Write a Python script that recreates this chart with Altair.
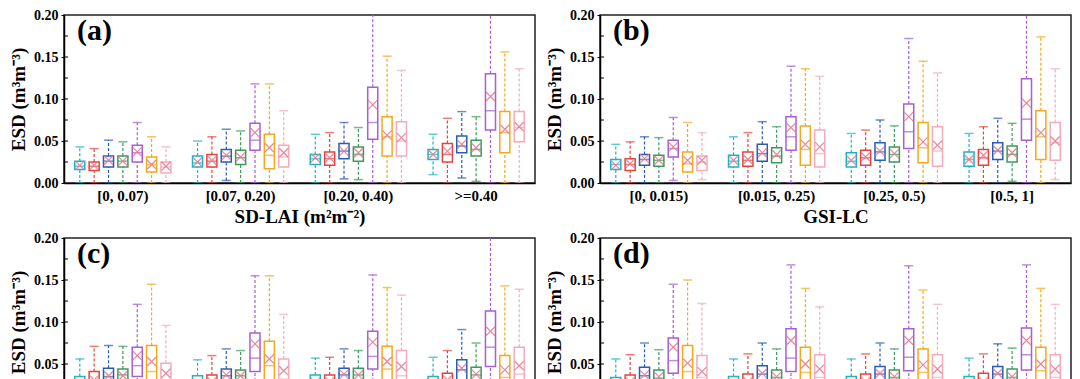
import altair as alt
import pandas as pd

SERIES = ["S1", "S2", "S3", "S4", "S5", "S6", "S7"]
COLORS = ["#1fb3c4", "#e2443f", "#2b5cb5", "#3b9b5c", "#a65fd6", "#f2a91c", "#f6aabb"]
MEAN_COLOR = "#e87a90"

A_GROUPS = ["[0, 0.07)", "[0.07, 0.20)", "[0.20, 0.40)", ">=0.40"]
B_GROUPS = ["[0, 0.015)", "[0.015, 0.25)", "[0.25, 0.5)", "[0.5, 1]"]
C_GROUPS = ["[0, 0.07)", "[0.07, 0.20)", "[0.20, 0.40)", ">=0.40"]
D_GROUPS = ["[0, 0.015)", "[0.015, 0.25)", "[0.25, 0.5)", "[0.5, 1]"]

# ---- panel (a): rows = series, cols = groups
A_HI = [[0.043, 0.050, 0.058, 0.058], [0.041, 0.055, 0.060, 0.077], [0.051, 0.064, 0.072, 0.085],
        [0.049, 0.062, 0.066, 0.079], [0.072, 0.118, 0.25, 0.25], [0.055, 0.118, 0.151, 0.156],
        [0.043, 0.086, 0.134, 0.136]]
A_Q3 = [[0.026, 0.032, 0.034, 0.040], [0.025, 0.034, 0.037, 0.047], [0.032, 0.040, 0.047, 0.056],
        [0.032, 0.039, 0.043, 0.051], [0.045, 0.071, 0.114, 0.130], [0.031, 0.058, 0.079, 0.085],
        [0.025, 0.045, 0.073, 0.085]]
A_MED = [[0.020, 0.024, 0.029, 0.034], [0.020, 0.026, 0.029, 0.034], [0.026, 0.032, 0.038, 0.044],
         [0.026, 0.030, 0.034, 0.040], [0.036, 0.051, 0.072, 0.086], [0.022, 0.033, 0.055, 0.060],
         [0.019, 0.031, 0.050, 0.066]]
A_MEAN = [[0.021, 0.025, 0.030, 0.034], [0.021, 0.027, 0.030, 0.038], [0.027, 0.033, 0.038, 0.046],
          [0.026, 0.031, 0.036, 0.042], [0.037, 0.060, 0.093, 0.103], [0.022, 0.042, 0.057, 0.064],
          [0.020, 0.036, 0.054, 0.067]]
A_Q1 = [[0.016, 0.019, 0.022, 0.028], [0.015, 0.019, 0.021, 0.025], [0.019, 0.025, 0.029, 0.036],
        [0.019, 0.022, 0.026, 0.032], [0.025, 0.039, 0.052, 0.063], [0.013, 0.017, 0.032, 0.036],
        [0.012, 0.019, 0.032, 0.049]]
A_LO = [[0.0, 0.0, 0.0, 0.010], [0.0, 0.0, 0.0, 0.0], [0.0, 0.003, 0.005, 0.006],
        [0.0, 0.0, 0.004, 0.002], [0.0, 0.0, 0.0, 0.0], [0.0, 0.0, 0.0, 0.0], [0.0, 0.0, 0.0, 0.0]]

# ---- panel (b)
B_HI = [[0.046, 0.055, 0.059, 0.059], [0.049, 0.060, 0.063, 0.067], [0.055, 0.073, 0.075, 0.077],
        [0.054, 0.067, 0.068, 0.071], [0.078, 0.139, 0.172, 0.25], [0.072, 0.136, 0.145, 0.174],
        [0.060, 0.127, 0.131, 0.136]]
B_Q3 = [[0.028, 0.033, 0.036, 0.037], [0.029, 0.037, 0.039, 0.040], [0.034, 0.046, 0.048, 0.048],
        [0.033, 0.042, 0.043, 0.044], [0.051, 0.079, 0.094, 0.124], [0.037, 0.068, 0.072, 0.086],
        [0.032, 0.063, 0.067, 0.072]]
B_MED = [[0.022, 0.026, 0.026, 0.028], [0.022, 0.027, 0.030, 0.030], [0.028, 0.035, 0.037, 0.038],
         [0.027, 0.032, 0.034, 0.034], [0.041, 0.055, 0.061, 0.076], [0.023, 0.040, 0.042, 0.055],
         [0.025, 0.035, 0.038, 0.048]]
B_MEAN = [[0.021, 0.027, 0.027, 0.028], [0.023, 0.028, 0.031, 0.033], [0.029, 0.036, 0.038, 0.039],
          [0.027, 0.034, 0.035, 0.036], [0.043, 0.066, 0.079, 0.095], [0.027, 0.046, 0.049, 0.060],
          [0.027, 0.043, 0.045, 0.050]]
B_Q1 = [[0.016, 0.019, 0.019, 0.020], [0.015, 0.020, 0.021, 0.021], [0.021, 0.026, 0.027, 0.028],
        [0.020, 0.024, 0.025, 0.025], [0.031, 0.039, 0.041, 0.051], [0.013, 0.021, 0.024, 0.028],
        [0.015, 0.019, 0.020, 0.027]]
B_LO = [[0.0, 0.0, 0.0, 0.0], [0.0, 0.0, 0.0, 0.0], [0.0, 0.0, 0.0, 0.0], [0.0, 0.0, 0.0, 0.002],
        [0.003, 0.0, 0.0, 0.0], [0.0, 0.0, 0.0, 0.0], [0.004, 0.0, 0.0, 0.004]]

# ---- panel (c)
C_HI = [[0.056, 0.055, 0.057, 0.058], [0.071, 0.060, 0.058, 0.066], [0.072, 0.068, 0.068, 0.091],
        [0.071, 0.066, 0.066, 0.075], [0.121, 0.155, 0.156, 0.25], [0.145, 0.155, 0.141, 0.143],
        [0.096, 0.109, 0.132, 0.139]]
C_Q3 = [[0.035, 0.036, 0.037, 0.035], [0.041, 0.037, 0.037, 0.039], [0.045, 0.044, 0.045, 0.055],
        [0.044, 0.043, 0.045, 0.046], [0.070, 0.087, 0.089, 0.113], [0.072, 0.077, 0.071, 0.060],
        [0.051, 0.056, 0.066, 0.070]]
C_MED = [[0.026, 0.026, 0.027, 0.026], [0.028, 0.028, 0.028, 0.029], [0.035, 0.036, 0.037, 0.043],
         [0.037, 0.036, 0.037, 0.037], [0.048, 0.057, 0.059, 0.070], [0.041, 0.048, 0.044, 0.034],
         [0.030, 0.032, 0.036, 0.038]]
C_MEAN = [[0.027, 0.027, 0.028, 0.027], [0.031, 0.029, 0.029, 0.031], [0.036, 0.037, 0.038, 0.045],
          [0.036, 0.036, 0.037, 0.038], [0.060, 0.074, 0.076, 0.089], [0.053, 0.056, 0.053, 0.043],
          [0.039, 0.042, 0.047, 0.048]]
C_Q1 = [[0.019, 0.019, 0.020, 0.019], [0.020, 0.020, 0.020, 0.021], [0.025, 0.026, 0.027, 0.030],
        [0.026, 0.025, 0.026, 0.026], [0.035, 0.041, 0.044, 0.047], [0.020, 0.022, 0.022, 0.020],
        [0.018, 0.019, 0.020, 0.022]]
C_LO = [[0.0] * 4 for _ in range(7)]

# ---- panel (d)
D_HI = [[0.056, 0.056, 0.056, 0.057], [0.061, 0.062, 0.062, 0.062], [0.075, 0.075, 0.075, 0.074],
        [0.067, 0.068, 0.068, 0.069], [0.145, 0.168, 0.167, 0.168], [0.150, 0.140, 0.138, 0.140],
        [0.122, 0.118, 0.121, 0.121]]
D_Q3 = [[0.034, 0.035, 0.035, 0.035], [0.037, 0.038, 0.038, 0.039], [0.046, 0.048, 0.047, 0.047],
        [0.043, 0.043, 0.043, 0.044], [0.081, 0.092, 0.092, 0.093], [0.072, 0.070, 0.068, 0.070],
        [0.060, 0.061, 0.061, 0.061]]
D_MED = [[0.026, 0.026, 0.026, 0.026], [0.028, 0.028, 0.028, 0.028], [0.036, 0.038, 0.038, 0.038],
         [0.033, 0.034, 0.034, 0.034], [0.054, 0.057, 0.058, 0.061], [0.041, 0.040, 0.040, 0.042],
         [0.034, 0.034, 0.034, 0.034]]
D_MEAN = [[0.027, 0.027, 0.027, 0.027], [0.029, 0.029, 0.029, 0.029], [0.037, 0.039, 0.039, 0.039],
          [0.035, 0.035, 0.035, 0.035], [0.070, 0.078, 0.078, 0.078], [0.051, 0.050, 0.049, 0.050],
          [0.041, 0.044, 0.044, 0.044]]
D_Q1 = [[0.019, 0.019, 0.019, 0.019], [0.020, 0.020, 0.020, 0.020], [0.027, 0.027, 0.027, 0.027],
        [0.025, 0.025, 0.025, 0.025], [0.039, 0.041, 0.042, 0.043], [0.021, 0.021, 0.021, 0.021],
        [0.020, 0.020, 0.020, 0.020]]
D_LO = [[0.0] * 4 for _ in range(7)]

Y_TICKS = [0.0, 0.05, 0.10, 0.15, 0.20]
MINOR_TICKS = [0.025, 0.05, 0.075, 0.10, 0.125, 0.15, 0.175]

FONT = "Liberation Serif"
W, H = 471, 168


def make_df(groups, lo, q1, med, mean, q3, hi):
    rows = []
    for si, s in enumerate(SERIES):
        for gi, g in enumerate(groups):
            rows.append(dict(group=g, series=s, lo=lo[si][gi], q1=q1[si][gi], med=med[si][gi],
                             mean=mean[si][gi], q3=q3[si][gi], hi=hi[si][gi]))
    return pd.DataFrame(rows)


def panel(df, groups, label, xtitle):
    yscale = alt.Scale(domain=[0, 0.2], nice=False, zero=True)
    yaxis = alt.Axis(values=Y_TICKS, format=".2f", title="ESD (m³m⁻³)", grid=False,
                     tickSize=3, tickColor="black", domainColor="black", domainWidth=1.5,
                     labelFontSize=14, labelFontWeight="bold", labelColor="black", labelPadding=3,
                     titleFontSize=19, titleFontWeight="bold", titleColor="black", titlePadding=5)

    def Y(field):
        return alt.Y(f"{field}:Q", scale=yscale, axis=yaxis)

    base = alt.Chart(df).encode(
        x=alt.X("group:N", sort=groups, scale=alt.Scale(paddingInner=0, paddingOuter=0),
                axis=alt.Axis(title=xtitle, ticks=False, labelAngle=0, domainColor="black",
                              domainWidth=1.5, labelFontSize=15, labelFontWeight="bold",
                              labelColor="black", labelPadding=5, titleFontSize=19,
                              titleFontWeight="bold", titleColor="black", titlePadding=4)),
        xOffset=alt.XOffset("series:N", sort=SERIES,
                            scale=alt.Scale(paddingInner=0.3, paddingOuter=0.75)),
    )
    col = alt.Color("series:N", sort=SERIES, scale=alt.Scale(domain=SERIES, range=COLORS),
                    legend=None)

    w_lo = base.mark_rule(strokeDash=[3, 2], strokeWidth=1.2, clip=True).encode(
        y=Y("lo"), y2="q1:Q", color=col)
    w_hi = base.mark_rule(strokeDash=[3, 2], strokeWidth=1.2, clip=True).encode(
        y=Y("q3"), y2="hi:Q", color=col)
    cap_lo = base.mark_tick(thickness=1.5, size=9, clip=True).encode(y=Y("lo"), color=col)
    cap_hi = base.mark_tick(thickness=1.5, size=9, clip=True).encode(y=Y("hi"), color=col)
    box = base.mark_bar(fillOpacity=0, strokeWidth=1.5, clip=True).encode(
        y=Y("q3"), y2="q1:Q", stroke=col)
    med = base.mark_tick(thickness=1.5, size=10, clip=True).encode(y=Y("med"), color=col)
    mean = base.mark_point(shape="M-1,-1L1,1M1,-1L-1,1", size=80, filled=False, strokeWidth=1.2,
                           color=MEAN_COLOR, opacity=0.9, clip=True).encode(y=Y("mean"))

    ticks = alt.Chart(pd.DataFrame({"v": MINOR_TICKS})).mark_rule(
        color="black", strokeWidth=1).encode(x=alt.value(0), x2=alt.value(4), y=Y("v"))

    lab = alt.Chart(pd.DataFrame({"t": [label]})).mark_text(
        font=FONT, fontSize=30, fontWeight="bold", align="left", baseline="middle",
        color="black").encode(x=alt.value(13), y=alt.value(16), text="t:N")

    return alt.layer(ticks, w_lo, w_hi, cap_lo, cap_hi, box, med, mean, lab).properties(
        width=W, height=H)


pa = panel(make_df(A_GROUPS, A_LO, A_Q1, A_MED, A_MEAN, A_Q3, A_HI), A_GROUPS, "(a)",
           "SD-LAI (m²m⁻²)")
pb = panel(make_df(B_GROUPS, B_LO, B_Q1, B_MED, B_MEAN, B_Q3, B_HI), B_GROUPS, "(b)", "GSI-LC")
pc = panel(make_df(C_GROUPS, C_LO, C_Q1, C_MED, C_MEAN, C_Q3, C_HI), C_GROUPS, "(c)",
           "SD-LAI (m²m⁻²)")
pd_ = panel(make_df(D_GROUPS, D_LO, D_Q1, D_MED, D_MEAN, D_Q3, D_HI), D_GROUPS, "(d)", "GSI-LC")

chart = alt.vconcat(
    alt.hconcat(pa, pb, spacing=8),
    alt.hconcat(pc, pd_, spacing=8),
    spacing=3,
).properties(
    padding={"left": 0, "top": -1, "right": 0, "bottom": 0}
).configure(font=FONT).configure_view(stroke="#222", strokeWidth=1.5)

chart.save("out.html", embed_options={"renderer": "svg", "actions": False})
